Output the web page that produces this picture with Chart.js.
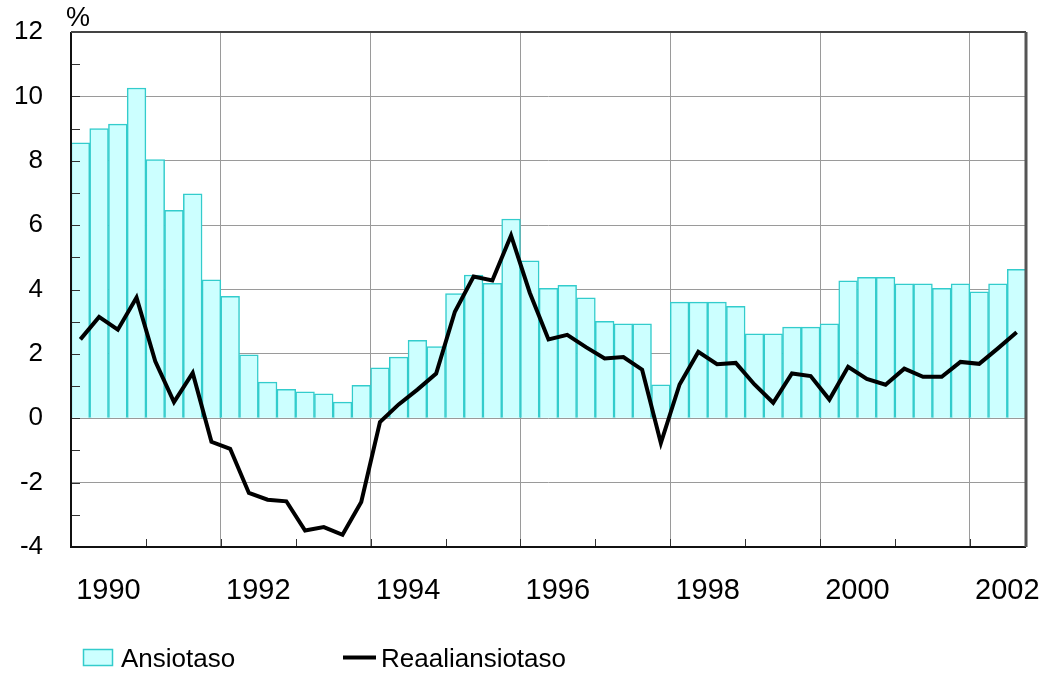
<!DOCTYPE html>
<html>
<head>
<meta charset="utf-8">
<script src="https://cdn.jsdelivr.net/npm/chart.js@4.4.1/dist/chart.umd.min.js"></script>
<style>
html,body{margin:0;padding:0;background:#fff;}
#wrap{width:1050px;height:675px;position:relative;}
</style>
</head>
<body>
<div id="wrap"><canvas id="c" width="1050" height="675"></canvas></div>
<script>
// Quarterly data, 1990 Q1 – 2002 Q3
const startYear = 1990;
const quarters = [];
for (let y = 1990; y <= 2002; y++) for (let q = 1; q <= 4; q++) quarters.push(y + 'Q' + q);
quarters.length = 51;

const ansiotaso = [8.56, 9.0, 9.14, 10.26, 8.04, 6.46, 6.97, 4.30, 3.79, 1.97,
  1.12, 0.90, 0.82, 0.76, 0.50, 1.02, 1.57, 1.90, 2.42, 2.23,
  3.87, 4.45, 4.19, 6.19, 4.89, 4.04, 4.13, 3.74, 3.01, 2.93,
  2.93, 1.04, 3.61, 3.61, 3.61, 3.48, 2.62, 2.62, 2.83, 2.83,
  2.93, 4.27, 4.38, 4.38, 4.18, 4.18, 4.04, 4.18, 3.93, 4.18, 4.63];

const reaaliansiotaso = [2.45, 3.15, 2.75, 3.75, 1.77, 0.50, 1.41, -0.73, -0.95, -2.32,
  -2.53, -2.58, -3.49, -3.38, -3.62, -2.60, -0.12, 0.43, 0.89, 1.39,
  3.31, 4.40, 4.28, 5.68, 3.90, 2.45, 2.59, 2.21, 1.86, 1.90,
  1.51, -0.77, 1.05, 2.06, 1.68, 1.72, 1.05, 0.48, 1.39, 1.31,
  0.58, 1.60, 1.22, 1.04, 1.54, 1.29, 1.29, 1.75, 1.69, 2.17, 2.67];

const yearLabels = ['1990', '1992', '1994', '1996', '1998', '2000', '2002'];
const yTicks = [-4, -2, 0, 2, 4, 6, 8, 10, 12];
const seriesNames = ['Ansiotaso', 'Reaaliansiotaso'];

const FONT = '"Liberation Sans", Arial, sans-serif';
const xOf = i => startYear + (i + 0.5) / 4;

const barData = ansiotaso.map((v, i) => ({ x: xOf(i), y: v }));
const lineData = reaaliansiotaso.map((v, i) => ({ x: xOf(i), y: v }));

const decor = {
  id: 'decor',
  afterDatasetsDraw(chart) {
    const ctx = chart.ctx, a = chart.chartArea;
    const xs = chart.scales.x, ys = chart.scales.y;
    ctx.save();
    ctx.strokeStyle = '#333'; ctx.lineWidth = 1;
    for (let v = -4; v <= 12; v++) {
      const py = Math.round(ys.getPixelForValue(v)) + 0.5;
      ctx.beginPath(); ctx.moveTo(a.left, py); ctx.lineTo(a.left + 9, py); ctx.stroke();
    }
    for (let y = 1991; y <= 2002; y++) {
      const px = Math.round(xs.getPixelForValue(y)) + 0.5;
      ctx.beginPath(); ctx.moveTo(px, a.bottom); ctx.lineTo(px, a.bottom - 8); ctx.stroke();
    }
    ctx.lineWidth = 2;
    ctx.strokeStyle = '#111';
    ctx.beginPath(); ctx.moveTo(a.left, a.top); ctx.lineTo(a.left, a.bottom); ctx.lineTo(a.right, a.bottom); ctx.stroke();
    ctx.strokeStyle = '#444';
    ctx.beginPath(); ctx.moveTo(a.left, a.top); ctx.lineTo(a.right, a.top); ctx.stroke();
    ctx.lineWidth = 3; ctx.strokeStyle = '#555';
    ctx.beginPath(); ctx.moveTo(a.right, a.top); ctx.lineTo(a.right, a.bottom); ctx.stroke();
    ctx.fillStyle = '#000';
    ctx.font = '27px ' + FONT;
    ctx.textBaseline = 'alphabetic';
    ctx.fillText('%', 66, 26);
    ctx.font = '26px ' + FONT;
    ctx.fillStyle = '#CCFFFF'; ctx.strokeStyle = '#33CCCC'; ctx.lineWidth = 1.5;
    ctx.fillRect(83, 649, 30, 17); ctx.strokeRect(83.5, 649.5, 29, 16);
    ctx.fillStyle = '#000';
    ctx.fillText(seriesNames[0], 121, 667);
    ctx.strokeStyle = '#000'; ctx.lineWidth = 4;
    ctx.beginPath(); ctx.moveTo(343, 657.5); ctx.lineTo(376, 657.5); ctx.stroke();
    ctx.fillText(seriesNames[1], 381, 667);
    ctx.restore();
  }
};

new Chart(document.getElementById('c'), {
  type: 'bar',
  data: {
    datasets: [
      {
        type: 'line', label: seriesNames[1], data: lineData,
        borderColor: '#000', borderWidth: 4, pointRadius: 0, tension: 0,
        fill: false, order: 0
      },
      {
        type: 'bar', label: seriesNames[0], data: barData,
        backgroundColor: '#CCFFFF', borderColor: '#33CCCC', borderWidth: 1.5,
        categoryPercentage: 1, barPercentage: 1, grouped: false, order: 1
      }
    ]
  },
  options: {
    responsive: false, animation: false,
    layout: { padding: { left: 0, top: 32, right: 24, bottom: 0 } },
    plugins: { legend: { display: false }, tooltip: { enabled: false } },
    scales: {
      x: {
        type: 'linear', min: 1990, max: 2002.75, offset: false,
        afterBuildTicks(scale) {
          const t = [];
          for (let v = 1990; v <= 2002.5; v += 0.5) t.push({ value: v });
          scale.ticks = t;
        },
        afterFit(scale) { scale.height = 128; scale.paddingLeft = 0; scale.paddingRight = 0; },
        grid: {
          drawTicks: false, offset: false,
          color: c => {
            const v = c.tick && c.tick.value;
            return (Number.isInteger(v) && v % 2 === 0 && v > 1990) ? '#9a9a9a' : 'rgba(0,0,0,0)';
          },
          lineWidth: 1
        },
        border: { display: false },
        ticks: {
          autoSkip: false, maxRotation: 0, minRotation: 0, padding: 27,
          color: '#000', font: { family: FONT, size: 29 },
          callback: v => {
            const s = String(v - 0.5);
            return yearLabels.includes(s) ? s : '';
          }
        }
      },
      y: {
        min: -4, max: 12,
        afterBuildTicks(scale) { scale.ticks = yTicks.map(v => ({ value: v })); },
        afterFit(scale) { scale.width = 71; scale.paddingTop = 0; scale.paddingBottom = 0; },
        grid: { drawTicks: false, color: '#9a9a9a', lineWidth: 1 },
        border: { display: false },
        ticks: {
          padding: 28, color: '#000', font: { family: FONT, size: 26 },
          callback: v => String(v)
        }
      }
    }
  },
  plugins: [decor]
});
</script>
</body>
</html>
